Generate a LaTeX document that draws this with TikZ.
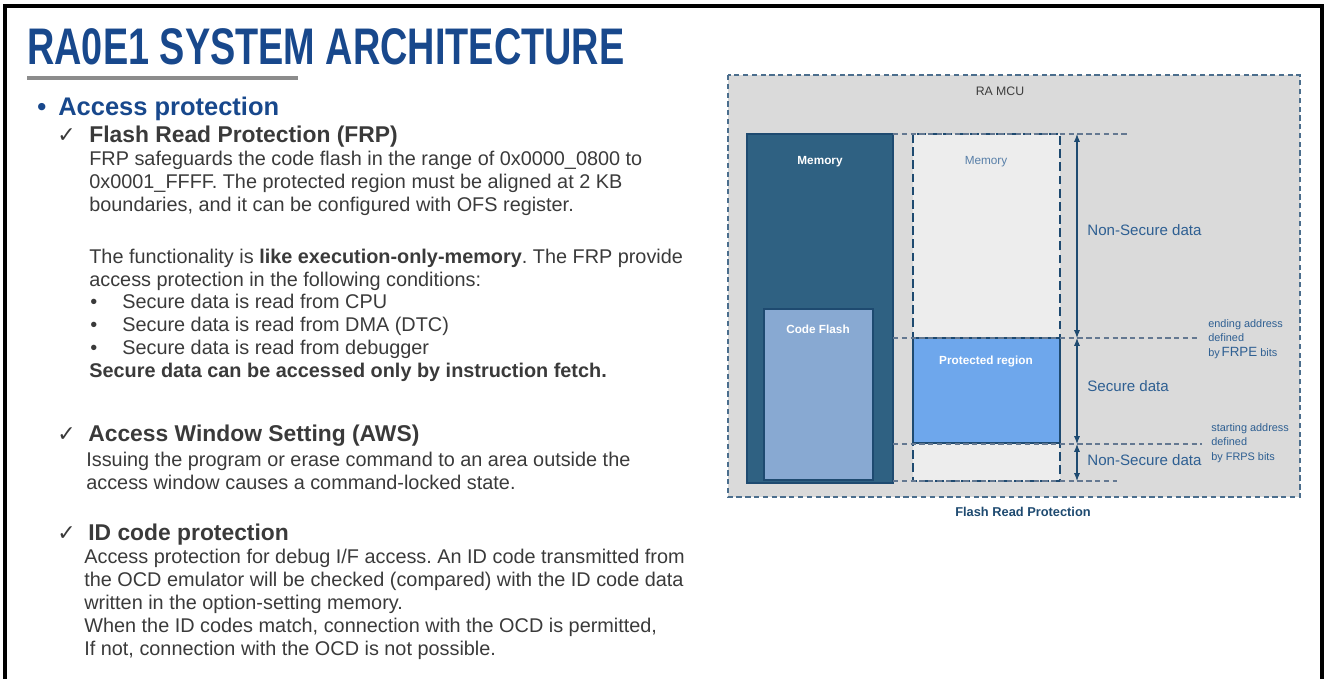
\documentclass[tikz,border=0pt]{standalone}
\usepackage{fontspec}
\setmainfont{Liberation Sans}
\newfontfamily\symfont{DejaVu Sans}
\newfontfamily\narrowfont[FakeStretch=0.735]{Liberation Sans}
\usetikzlibrary{arrows.meta,positioning}
\frenchspacing

\definecolor{titleblue}{RGB}{24,72,140}
\definecolor{bodytext}{RGB}{58,58,58}
\definecolor{rulegrey}{RGB}{140,140,140}
\definecolor{panelfill}{RGB}{218,218,218}
\definecolor{edgeblue}{RGB}{30,74,112}
\definecolor{memdarkfill}{RGB}{47,97,130}
\definecolor{flashfill}{RGB}{136,169,210}
\definecolor{memlightfill}{RGB}{237,237,237}
\definecolor{protfill}{RGB}{110,167,236}
\definecolor{diagtext}{RGB}{46,95,146}
\definecolor{guidegrey}{RGB}{100,120,145}
\definecolor{mcugrey}{RGB}{60,60,60}

\tikzset{
  txt/.style={anchor=base west, inner sep=0pt, text=bodytext},
  body/.style={txt, font=\fontsize{11.3}{13}\selectfont},
  heading/.style={txt, font=\fontsize{13}{15}\selectfont\bfseries},
  tick/.style={txt, font=\fontsize{12.5}{14}\symfont},
  pagetitle/.style={txt, text=titleblue, font=\fontsize{29.3}{33}\narrowfont\bfseries},
  panel/.style={fill=panelfill, draw=edgeblue!80, densely dashed, line width=0.9pt},
  memdark/.style={fill=memdarkfill, draw=edgeblue, line width=1.2pt},
  flashbox/.style={fill=flashfill, draw=edgeblue, line width=1.4pt},
  memlight/.style={fill=memlightfill, draw=edgeblue, dashed, dash pattern=on 5pt off 2.5pt, line width=1.4pt},
  protbox/.style={fill=protfill, draw=edgeblue, line width=1.4pt},
  boxlabel/.style={inner sep=0pt, text=white, font=\fontsize{6.7}{8}\selectfont\bfseries},
  dlabel/.style={anchor=west, inner sep=0pt, text=diagtext, font=\fontsize{8.6}{10}\selectfont},
  note/.style={anchor=base west, inner sep=0pt, text=diagtext, font=\fontsize{6.2}{7}\selectfont},
  guide/.style={draw=guidegrey, densely dashed, line width=0.6pt},
  span/.style={draw=edgeblue, line width=0.6pt, {Latex[length=4.5pt,width=3.5pt]}-{Latex[length=4.5pt,width=3.5pt]}}
}

\begin{document}
\begin{tikzpicture}[x=0.02cm,y=-0.02cm]
  \useasboundingbox (0,0) rectangle (1328,679);
  \draw[line width=1.8pt] (5,679) -- (5,6) -- (1322,6) -- (1322,679);

  % left column
  \node[pagetitle] (title) at (27,65) {RA0E1 SYSTEM ARCHITECTURE};
  \draw[rulegrey, line width=2.3pt] (27,78) -- (298,78);
  \node[txt, text=titleblue, font=\fontsize{14.5}{17}\selectfont\bfseries] (bul) at (37,115) {\textbullet};
  \node[txt, text=titleblue, font=\fontsize{14.5}{17}\selectfont\bfseries] (access) at (58,115) {Access protection};

  \node[tick] (t1) at (57,142) {✓};
  \node[heading] (frp) at (89,142) {Flash Read Protection (FRP)};
  \node[body] (frp1) at (89,165) {FRP safeguards the code flash in the range of 0x0000\_0800 to};
  \node[body] (frp2) at (89,188) {0x0001\_FFFF. The protected region must be aligned at 2 KB};
  \node[body] (frp3) at (89,211) {boundaries, and it can be configured with OFS register.};
  \node[body] (frp4) at (89,263) {The functionality is \textbf{like execution-only-memory}. The FRP provide};
  \node[body] (frp5) at (89,286) {access protection in the following conditions:};
  \foreach \y/\t [count=\i] in {308/CPU, 331/DMA (DTC), 354/debugger} {
    \node[body] (dot\i) at (90,\y) {\textbullet};
    \node[body] (cond\i) at (122,\y) {Secure data is read from \t};
  }
  \node[body, font=\fontsize{11.3}{13}\selectfont\bfseries] (fetch) at (89,377) {Secure data can be accessed only by instruction fetch.};

  \node[tick] (t2) at (57,441) {✓};
  \node[heading] (aws) at (88,441) {Access Window Setting (AWS)};
  \node[body] (aws1) at (86,466) {Issuing the program or erase command to an area outside the};
  \node[body] (aws2) at (86,489) {access window causes a command-locked state.};

  \node[tick] (t3) at (57,540) {✓};
  \node[heading] (idc) at (88,540) {ID code protection};
  \node[body] (idc1) at (84,563) {Access protection for debug I/F access. An ID code transmitted from};
  \node[body] (idc2) at (84,586) {the OCD emulator will be checked (compared) with the ID code data};
  \node[body] (idc3) at (84,609) {written in the option-setting memory.};
  \node[body] (idc4) at (84,632) {When the ID codes match, connection with the OCD is permitted,};
  \node[body] (idc5) at (84,655) {If not, connection with the OCD is not possible.};

  % right diagram
  \draw[panel] (728,75) rectangle (1300,497);
  \node[inner sep=0pt, text=mcugrey, font=\fontsize{7}{8}\selectfont] (mcu) at (1000,91) {RA MCU};
  \draw[memdark] (747,134) rectangle (893,483);
  \node[boxlabel] (memleft) at (820,162) {Memory};
  \draw[flashbox] (764,309) rectangle (873,480);
  \node[boxlabel] (flash) at (818,329) {Code Flash};
  \draw[memlight] (913,134) rectangle (1060,481);
  \draw[protbox] (913,338) rectangle (1060,443);
  \node[boxlabel, text=diagtext!80, font=\fontsize{6.7}{8}\selectfont] (memright) at (986,162) {Memory};
  \node[boxlabel] (prot) at (986,361) {Protected region};

  \coordinate (top) at (1077,134);
  \coordinate (endaddr) at (1077,338);
  \coordinate (startaddr) at (1077,444);
  \coordinate (bot) at (1077,481);
  \coordinate (topfrom) at (893,134);
  \coordinate (endfrom) at (893,338);
  \coordinate (startfrom) at (893,444);
  \coordinate (botfrom) at (893,481);
  \draw[guide] (topfrom) -- ([xshift=1cm] top);
  \draw[guide] (endfrom) -- (1197,338);
  \draw[guide] (startfrom) -- (1202,444);
  \draw[guide] (botfrom) -- ([xshift=0.8cm] bot);
  \draw[span] (top) -- (endaddr);
  \draw[span] (endaddr) -- (startaddr);
  \draw[span] (startaddr) -- (bot);

  \node[dlabel] (ns1) at (1087,230) {Non-Secure data};
  \node[dlabel] (sec) at (1087,386) {Secure data};
  \node[dlabel] (ns2) at (1087,460) {Non-Secure data};
  \node[note] (e1) at (1208,327) {ending address};
  \node[note] (e2) at (1208,341) {defined};
  \node[note] (e3) at (1208,356) {by\,{\fontsize{7.6}{8}\selectfont FRPE} bits};
  \node[note] (s1) at (1211,431) {starting address};
  \node[note] (s2) at (1211,445) {defined};
  \node[note] (s3) at (1211,460) {by FRPS bits};
  \node[inner sep=0pt, text=edgeblue, font=\fontsize{7.3}{9}\selectfont\bfseries] (caption) at (1023,512) {Flash Read Protection};
\end{tikzpicture}
\end{document}
